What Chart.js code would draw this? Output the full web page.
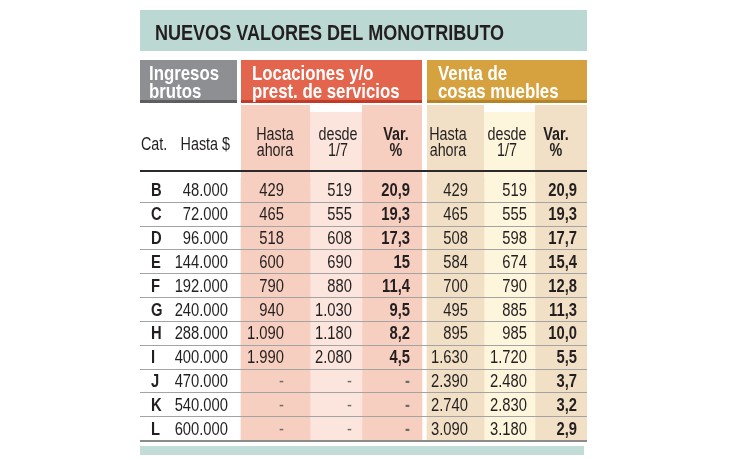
<!DOCTYPE html>
<html lang="es">
<head>
<meta charset="utf-8">
<title>Nuevos valores del monotributo</title>
<script src="https://cdn.jsdelivr.net/npm/chart.js@4"></script>
<style>
  html, body { margin: 0; padding: 0; background: #fff; }
</style>
</head>
<body>
<canvas id="tabla" width="730" height="460"></canvas>
<script>
// Datos de la tabla
const categorias = ['B', 'C', 'D', 'E', 'F', 'G', 'H', 'I', 'J', 'K', 'L'];
const ingresosHasta = [48000, 72000, 96000, 144000, 192000, 240000, 288000, 400000, 470000, 540000, 600000];
const serviciosHastaAhora = [429, 465, 518, 600, 790, 940, 1090, 1990, null, null, null];
const serviciosDesde = [519, 555, 608, 690, 880, 1030, 1180, 2080, null, null, null];
const serviciosVar = [20.9, 19.3, 17.3, 15, 11.4, 9.5, 8.2, 4.5, null, null, null];
const ventasHastaAhora = [429, 465, 508, 584, 700, 495, 895, 1630, 2390, 2740, 3090];
const ventasDesde = [519, 555, 598, 674, 790, 885, 985, 1720, 2480, 2830, 3180];
const ventasVar = [20.9, 19.3, 17.7, 15.4, 12.8, 11.3, 10.0, 5.5, 3.7, 3.2, 2.9];

// Textos
const titulo = 'NUEVOS VALORES DEL MONOTRIBUTO';
const grupos = [['Ingresos', 'brutos'], ['Locaciones y/o', 'prest. de servicios'], ['Venta de', 'cosas muebles']];
const subtitulos = [['Hasta', 'ahora'], ['desde', '1/7'], ['Var.', '%']];

// Fuente "condensada": Liberation Sans comprimida en horizontal
const FAMILIA = '"Liberation Sans", Arial, sans-serif';
const SX = 0.82;
const TINTA = '#231f20';

// Formatos
function miles(v) {
  return String(v).replace(/\B(?=(\d{3})+(?!\d))/g, '.');
}
function porcentaje(v, fijo) {
  return fijo ? v.toFixed(1).replace('.', ',') : String(v).replace('.', ',');
}

// Columnas de valores (x en px desde el borde izquierdo de la tabla)
const columnas = [
  { x0: 101, x1: 170, fondo: '#f7cfc0', tope: 105, datos: serviciosHastaAhora, fmt: miles, xt: 144, sub: 0, xs: 135, negrita: false },
  { x0: 170, x1: 222, fondo: '#fbe5dc', tope: 112, datos: serviciosDesde, fmt: miles, xt: 212, sub: 1, xs: 198, negrita: false },
  { x0: 222, x1: 282, fondo: '#f7cfc0', tope: 105, datos: serviciosVar, fmt: v => porcentaje(v, false), xt: 270, sub: 2, xs: 256, negrita: true },
  { x0: 287, x1: 344, fondo: '#f1e0c5', tope: 105, datos: ventasHastaAhora, fmt: miles, xt: 328, sub: 0, xs: 308, negrita: false },
  { x0: 344, x1: 395, fondo: '#fdf5dc', tope: 112, datos: ventasDesde, fmt: miles, xt: 387, sub: 1, xs: 367, negrita: false },
  { x0: 395, x1: 447, fondo: '#f1e0c5', tope: 105, datos: ventasVar, fmt: v => porcentaje(v, true), xt: 437, sub: 2, xs: 416, negrita: true },
];

// Bandas de encabezado
const bandas = [
  { x0: 0, x1: 97, fondo: '#8e8f93', borde: '#5d5e62', xt: 9 },
  { x0: 101, x1: 282, fondo: '#e4654d', borde: '#c23b28', xt: 112 },
  { x0: 287, x1: 447, fondo: '#d5a23f', borde: '#b4832a', xt: 298 },
];

function texto(ctx, s, x, y, align, font, color) {
  ctx.save();
  ctx.font = font;
  ctx.fillStyle = color || TINTA;
  ctx.textAlign = align;
  ctx.textBaseline = 'alphabetic';
  ctx.translate(x, y);
  ctx.scale(SX, 1);
  ctx.fillText(s, 0, 0);
  ctx.restore();
}

const tablaPlugin = {
  id: 'tabla',
  beforeDatasetsDraw(chart) {
    const { ctx, chartArea, scales: { x } } = chart;
    const L = chartArea.left, R = chartArea.right;

    // banda del título
    ctx.fillStyle = '#bcd8d2';
    ctx.fillRect(L, 10, R - L, 41);
    texto(ctx, titulo, L + 15, 40, 'left', 'bold 22px ' + FAMILIA);

    // bandas de grupos
    bandas.forEach((b, i) => {
      const a = x.getPixelForValue(b.x0), c = x.getPixelForValue(b.x1);
      ctx.fillStyle = b.fondo;
      ctx.fillRect(a, 60, c - a, 43);
      ctx.fillStyle = b.borde;
      ctx.fillRect(a, 100, c - a, 3);
      texto(ctx, grupos[i][0], x.getPixelForValue(b.xt), 80, 'left', 'bold 20.5px ' + FAMILIA, '#fff');
      texto(ctx, grupos[i][1], x.getPixelForValue(b.xt), 98, 'left', 'bold 20.5px ' + FAMILIA, '#fff');
    });

    // fondos de columnas en la zona de subtítulos
    columnas.forEach(c => {
      const a = x.getPixelForValue(c.x0), b = x.getPixelForValue(c.x1);
      ctx.fillStyle = c.fondo;
      ctx.fillRect(a, c.tope, b - a, chartArea.top - c.tope + 1);
    });

    // subtítulos
    const f = '17.5px ' + FAMILIA;
    texto(ctx, 'Cat.', L + 1, 150, 'left', f);
    texto(ctx, 'Hasta $', x.getPixelForValue(90), 150, 'right', f);
    columnas.forEach(c => {
      const s = subtitulos[c.sub];
      const fs = (c.negrita ? 'bold ' : '') + f;
      texto(ctx, s[0], x.getPixelForValue(c.xs), 140, 'center', fs);
      texto(ctx, s[1], x.getPixelForValue(c.xs), 156, 'center', fs);
    });

    // línea gruesa bajo los subtítulos
    ctx.fillStyle = '#2a2a2a';
    ctx.fillRect(L, 170, R - L, 2);
  },
  afterDatasetsDraw(chart) {
    const { ctx, chartArea, scales: { x, y } } = chart;
    const L = chartArea.left, R = chartArea.right;

    // separadores de filas
    ctx.strokeStyle = '#a3a3a3';
    ctx.lineWidth = 1;
    for (let i = 0; i < categorias.length - 1; i++) {
      const yy = Math.round((y.getPixelForValue(i) + y.getPixelForValue(i + 1)) / 2) + 0.5;
      ctx.beginPath();
      ctx.moveTo(L, yy);
      ctx.lineTo(R, yy);
      ctx.stroke();
    }

    // celdas
    const f = '18px ' + FAMILIA;
    const fb = 'bold 18px ' + FAMILIA;
    categorias.forEach((cat, i) => {
      const base = y.getPixelForValue(i) + 6.5;
      texto(ctx, cat, x.getPixelForValue(11), base, 'left', fb);
      texto(ctx, miles(ingresosHasta[i]), x.getPixelForValue(88), base, 'right', f);
      columnas.forEach(c => {
        const v = c.datos[i];
        const s = v === null ? '-' : c.fmt(v);
        texto(ctx, s, x.getPixelForValue(c.xt), base, 'right', c.negrita ? fb : f, v === null ? '#6b6b6b' : TINTA);
      });
    });

    // cierre inferior
    ctx.fillStyle = '#8c8c8c';
    ctx.fillRect(L, chartArea.bottom, R - L, 2);
    ctx.fillStyle = '#c2dcd7';
    ctx.fillRect(L, chartArea.bottom + 6, R - L - 3, 9);
  }
};

// Los fondos de las celdas de datos son barras flotantes horizontales
const datasets = columnas.map(c => ({
  data: categorias.map(() => [c.x0, c.x1]),
  backgroundColor: c.fondo,
  borderWidth: 0,
  borderSkipped: false,
  barPercentage: 1,
  categoryPercentage: 1,
  grouped: false,
}));

new Chart(document.getElementById('tabla'), {
  type: 'bar',
  data: { labels: categorias, datasets },
  options: {
    responsive: false,
    animation: false,
    indexAxis: 'y',
    layout: { padding: { left: 140, right: 143, top: 178, bottom: 20 } },
    plugins: { legend: { display: false }, tooltip: { enabled: false } },
    scales: {
      x: { type: 'linear', min: 0, max: 447, display: false },
      y: { type: 'category', display: false },
    },
  },
  plugins: [tablaPlugin],
});
</script>
</body>
</html>
